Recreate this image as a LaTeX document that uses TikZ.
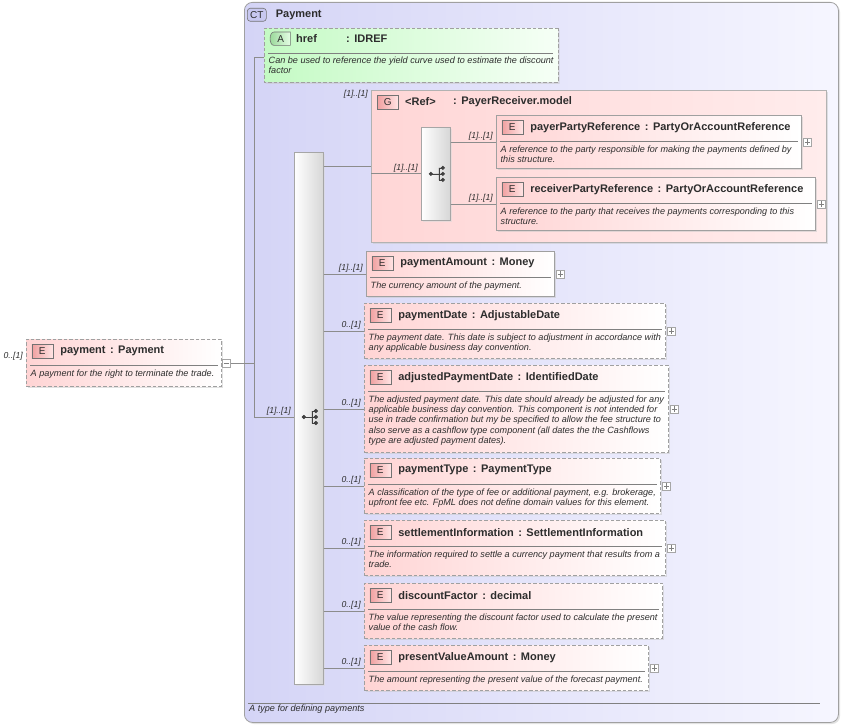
\documentclass[tikz,border=0pt]{standalone}
\usepackage{fontspec}
\setmainfont{Liberation Sans}
\usetikzlibrary{shapes.misc,shadows,calc}
\definecolor{ctL}{RGB}{212,212,246}
\definecolor{ctR}{RGB}{246,246,255}
\definecolor{pinkL}{RGB}{255,212,212}
\definecolor{pinkR}{RGB}{255,255,255}
\definecolor{grpL}{RGB}{255,214,214}
\definecolor{grpR}{RGB}{255,236,236}
\definecolor{grnL}{RGB}{196,250,196}
\definecolor{grnR}{RGB}{246,255,246}
\definecolor{bord}{RGB}{160,160,160}
\definecolor{txt}{RGB}{45,45,45}
\definecolor{connc}{RGB}{140,140,140}
\definecolor{badgeL}{RGB}{240,160,160}
\definecolor{badgeR}{RGB}{255,228,228}
\definecolor{ctbadge}{RGB}{200,200,240}
\newcommand{\tsep}{\hspace{4.5pt}:\hspace{4.5pt}}
\tikzset{
  elembox/.style={rectangle, inner sep=0, left color=pinkL, right color=pinkR, draw=bord, line width=0.8pt,
    drop shadow={shadow xshift=1.6pt, shadow yshift=-1.6pt, fill=black!22}},
  dashedbox/.style={dash pattern=on 3.5pt off 2pt},
  solidbox/.style={},
  ebadge/.style={rectangle, inner sep=0, minimum width=21pt, minimum height=14pt, left color=badgeL, right color=badgeR,
    draw=black!55, line width=0.6pt, text=txt, font=\fontsize{10}{10}\selectfont},
  etitle/.style={inner sep=0, text=txt, font=\fontsize{11}{12}\selectfont\bfseries},
  edesc/.style={inner sep=0, text=txt, align=left, font=\fontsize{9.1}{10.25}\selectfont\itshape},
  sepline/.style={draw=black!50, line width=0.6pt},
  conn/.style={draw=connc, line width=0.8pt},
  card/.style={inner sep=0, text=txt, font=\fontsize{8.6}{9}\selectfont\itshape},
  pmbox/.style={rectangle, draw=black!35, fill=white, minimum size=8pt, inner sep=0, line width=0.5pt},
  pmline/.style={draw=black!50, line width=0.6pt},
  seqbox/.style={rectangle, inner sep=0, left color=white, right color=black!16, draw=black!35, line width=0.7pt,
    drop shadow={shadow xshift=1.2pt, shadow yshift=-1.2pt, fill=black!15}},
  icon/.style={draw=black!75, fill=black!75, line width=0.7pt},
  seqicon/.pic={
    \draw[icon] (-5,0) -- (3,0);
    \draw[icon] (3,-6) -- (3,6);
    \draw[icon] (3,-6) -- (7,-6) (3,0) -- (7,0) (3,6) -- (7,6);
    \fill[icon] (-5,0) circle (1.7) (7,-6) circle (1.7) (7,0) circle (1.7) (7,6) circle (1.7);
  }
}
\newcommand{\elem}[7]{%
  \node[elembox,#2,minimum width=#4,minimum height=#5,anchor=north west] (#1) at #3 {};
  \node[ebadge,anchor=north west] (#1-b) at ([shift={(5.5,5)}]#1.north west) {E};
  \node[etitle,anchor=west] (#1-t) at ([xshift=7pt]#1-b.east) {#6};
  \draw[sepline] ([shift={(4,26)}]#1.north west) -- ([shift={(-4,26)}]#1.north east);
  \node[edesc,anchor=north west] (#1-d) at ([shift={(4.5,30.5)}]#1.north west) {#7};
}
\newcommand{\plusb}[1]{%
  \node[pmbox,anchor=west] (#1-p) at ([xshift=1.5pt]#1.east) {};
  \draw[pmline] ([xshift=1.5pt]#1-p.west) -- ([xshift=-1.5pt]#1-p.east);
  \draw[pmline] ([yshift=1.5pt]#1-p.south) -- ([yshift=-1.5pt]#1-p.north);
}
\begin{document}
\begin{tikzpicture}[x=1pt,y=-1pt]
\useasboundingbox (0,0) rectangle (843,725);
\fill[white] (0,0) rectangle (843,725);

% complex type box
\node[rectangle, rounded corners=8pt, inner sep=0, minimum width=594pt, minimum height=720pt, anchor=north west,
  left color=ctL, right color=ctR, draw=bord, line width=0.8pt,
  drop shadow={shadow xshift=1.6pt, shadow yshift=-1.6pt, fill=black!22}] (ct) at (244,2) {};
\node[rectangle, rounded corners=3pt, inner sep=0, minimum width=19pt, minimum height=13pt, anchor=north west,
  fill=ctbadge, draw=black!55, line width=0.6pt, text=txt, font=\fontsize{10}{10}\selectfont] (ct-b) at (247,8) {CT};
\node[etitle, anchor=west] (ct-t) at ([xshift=9pt]ct-b.east) {Payment};
\draw[sepline] (248,703) -- (820,703);
\node[edesc, anchor=north west] (ct-d) at (249,704.5) {A type for defining payments};

% attribute href
\node[chamfered rectangle, chamfered rectangle corners={north west,south west}, chamfered rectangle xsep=5pt,
  chamfered rectangle ysep=5pt, inner sep=0, minimum width=294pt, minimum height=54pt, anchor=north west,
  left color=grnL, right color=grnR, draw=bord, line width=0.8pt, dashedbox,
  drop shadow={shadow xshift=1.6pt, shadow yshift=-1.6pt, fill=black!22}] (href) at (264,28) {};
\node[rectangle, inner sep=0, minimum width=21pt, minimum height=13pt, anchor=north west] (href-b) at (269,32) {};
\shade[left color={rgb,255:red,150;green,215;blue,150}, right color={rgb,255:red,228;green,252;blue,228},
  draw=black!55, line width=0.6pt]
  (href-b.north east) -- ([xshift=5pt]href-b.north west) to[out=180,in=180] ([xshift=5pt]href-b.south west)
  -- (href-b.south east) -- cycle;
\node[inner sep=0, text=txt, font=\fontsize{10}{10}\selectfont] (href-bt) at ([xshift=1pt]href-b.center) {A};
\node[etitle, anchor=west] (href-t) at (296,38.5) {href};
\node[etitle, anchor=west] (href-ty) at (346,38.5) {:\hspace{4.5pt}IDREF};
\draw[sepline] (268,53) -- (553,53);
\node[edesc, anchor=north west] (href-d) at (268.5,56.5) {Can be used to reference the yield curve used to estimate the discount\\factor};

% payment element (left)
\elem{pay}{dashedbox}{(26,339)}{195pt}{47pt}{payment\tsep Payment}{A payment for the right to terminate the trade.}
\node[pmbox,anchor=west] (pay-m) at ([xshift=0.5pt]pay.east) {};
\draw[pmline] ([xshift=1.5pt]pay-m.west) -- ([xshift=-1.5pt]pay-m.east);
\node[card, anchor=south east] (pay-c) at ([shift={(-3,-2)}]pay.west) {0..[1]};

% main sequence
\node[seqbox, minimum width=29pt, minimum height=532pt, anchor=north west] (seq) at (294,152) {};
\coordinate (jt) at (254,57);
\coordinate (jb) at (254,417);
\draw[conn] (href.west |- jt) -- (jt) -- (jb) -- (jb -| seq.west);
\draw[conn] (pay-m.east) -- (pay-m.east -| jt);
\pic at (seq.center |- jb) {seqicon};
\node[card, anchor=south east] (seq-c) at ([shift={(-3,-1.5)}]jb -| seq.west) {[1]..[1]};

% group
\node[rectangle, inner sep=0, minimum width=455pt, minimum height=152pt, anchor=north west,
  left color=grpL, right color=grpR, draw=black!30, line width=0.8pt,
  drop shadow={shadow xshift=2pt, shadow yshift=-2pt, fill=black!22}] (grp) at (371,90) {};
\node[ebadge, anchor=north west] (grp-b) at (377,95) {G};
\node[etitle, anchor=west] (grp-t) at (405,101.5) {<Ref>};
\node[etitle, anchor=west] (grp-ty) at (453,101.5) {:\hspace{4.5pt}PayerReceiver.model};
\node[card, anchor=north east] (grp-c) at ([shift={(-3,0.5)}]grp.north west) {[1]..[1]};
\draw[conn] (seq.east |- grp.west) -- (grp.west);

\node[seqbox, minimum width=29pt, minimum height=93pt, anchor=north west] (seq2) at (421,127) {};
\pic at (seq2.center) {seqicon};
\draw[conn] (seq2.west -| grp.west) -- (seq2.west);
\node[card, anchor=south east] (seq2-c) at ([shift={(-3,-1.5)}]seq2.west) {[1]..[1]};

\elem{payer}{solidbox}{(496,115)}{305pt}{53pt}{payerPartyReference\tsep PartyOrAccountReference}{A reference to the party responsible for making the payments defined by\\this structure.}
\plusb{payer}
\elem{recv}{solidbox}{(496,177)}{319pt}{53pt}{receiverPartyReference\tsep PartyOrAccountReference}{A reference to the party that receives the payments corresponding to this\\structure.}
\plusb{recv}
\draw[conn] (seq2.east |- payer.west) -- (payer.west);
\draw[conn] (seq2.east |- recv.west) -- (recv.west);
\node[card, anchor=south east] (payer-c) at ([shift={(-3,-1.5)}]payer.west) {[1]..[1]};
\node[card, anchor=south east] (recv-c) at ([shift={(-3,-1.5)}]recv.west) {[1]..[1]};

% sequence children
\elem{pamt}{solidbox}{(366,251)}{188pt}{45pt}{paymentAmount\tsep Money}{The currency amount of the payment.}
\plusb{pamt}
\elem{pdate}{dashedbox}{(364,303)}{301pt}{55pt}{paymentDate\tsep AdjustableDate}{The payment date. This date is subject to adjustment in accordance with\\any applicable business day convention.}
\plusb{pdate}
\elem{adj}{dashedbox}{(364,365)}{304pt}{87pt}{adjustedPaymentDate\tsep IdentifiedDate}{The adjusted payment date. This date should already be adjusted for any\\applicable business day convention. This component is not intended for\\use in trade confirmation but my be specified to allow the fee structure to\\also serve as a cashflow type component (all dates the the Cashflows\\type are adjusted payment dates).}
\plusb{adj}
\elem{ptype}{dashedbox}{(364,458)}{296pt}{55pt}{paymentType\tsep PaymentType}{A classification of the type of fee or additional payment, e.g. brokerage,\\upfront fee etc. FpML does not define domain values for this element.}
\plusb{ptype}
\elem{settle}{dashedbox}{(364,520)}{301pt}{55pt}{settlementInformation\tsep SettlementInformation}{The information required to settle a currency payment that results from a\\trade.}
\plusb{settle}
\elem{disc}{dashedbox}{(364,583)}{298pt}{55pt}{discountFactor\tsep decimal}{The value representing the discount factor used to calculate the present\\value of the cash flow.}
\elem{pva}{dashedbox}{(364,645)}{284pt}{45pt}{presentValueAmount\tsep Money}{The amount representing the present value of the forecast payment.}
\plusb{pva}

\foreach \n/\c in {pamt/{[1]..[1]}, pdate/{0..[1]}, adj/{0..[1]}, ptype/{0..[1]}, settle/{0..[1]}, disc/{0..[1]}, pva/{0..[1]}} {
  \draw[conn] (seq.east |- \n.west) -- (\n.west);
  \node[card, anchor=south east] (\n-c) at ([shift={(-3,-1.5)}]\n.west) {\c};
}
\end{tikzpicture}
\end{document}
